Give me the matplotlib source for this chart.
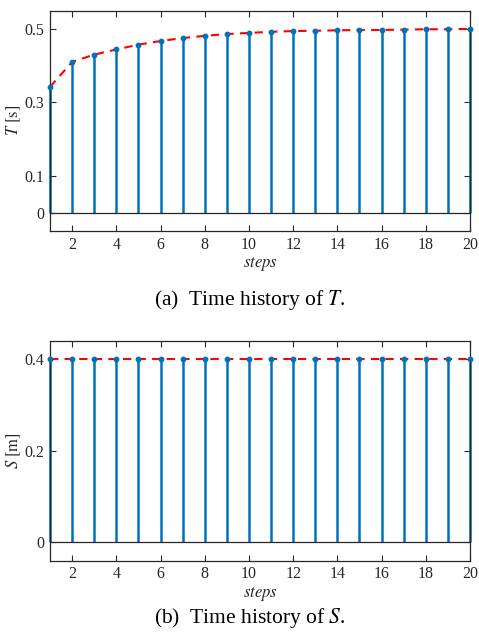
import matplotlib
matplotlib.use("Agg")
import matplotlib.pyplot as plt
import numpy as np

plt.rcParams['font.family'] = ['Liberation Serif', 'DejaVu Serif']
plt.rcParams['mathtext.fontset'] = 'stix'

steps = list(range(1, 21))
T_values = [0.342, 0.410, 0.430, 0.444, 0.457, 0.467, 0.475, 0.481, 0.486, 0.489,
            0.492, 0.494, 0.495, 0.496, 0.497, 0.497, 0.498, 0.499, 0.499, 0.500]
S_values = [0.4] * 20

x_ticks = [2, 4, 6, 8, 10, 12, 14, 16, 18, 20]
T_yticks = [0, 0.1, 0.3, 0.5]
T_yticklabels = ['0', '0.1', '0.3', '0.5']
S_yticks = [0, 0.2, 0.4]
S_yticklabels = ['0', '0.2', '0.4']

W, H = 479, 637
fig = plt.figure(figsize=(W / 100, H / 100), dpi=100)

blue = '#0072BD'
gray = '#262626'

def panel(rect, values, ylim, yticks, yticklabels, ylabel):
    ax = fig.add_axes(rect)
    ml, sl, bl = ax.stem(steps, values, linefmt='-', markerfmt='o', basefmt='-')
    plt.setp(sl, color=blue, linewidth=1.8, clip_on=False)
    plt.setp(ml, color=blue, markersize=3.2, clip_on=False, zorder=4)
    plt.setp(bl, color=gray, linewidth=0.9)
    bl.set_xdata([steps[0], steps[-1]])
    ax.plot(steps, values, '--', color='red', linewidth=1.5, dashes=(4, 3), zorder=3,
            clip_on=False)
    ax.set_xlim(1, 20)
    ax.set_ylim(*ylim)
    ax.set_xticks(x_ticks)
    ax.set_yticks(yticks)
    ax.set_yticklabels(yticklabels)
    ax.tick_params(direction='in', top=True, right=True, labelsize=11.5,
                   colors=gray, length=4, width=0.8, pad=4)
    for s in ax.spines.values():
        s.set_color(gray)
        s.set_linewidth(0.9)
    ax.set_xlabel(r'$steps$', fontsize=12, color=gray, labelpad=2)
    ax.set_ylabel(ylabel, fontsize=12, color=gray, labelpad=1)
    return ax

panel([50 / W, 1 - 231 / H, 420 / W, 220.5 / H], T_values, (-0.05, 0.55),
      T_yticks, T_yticklabels, r'$T\ \mathrm{[s]}$')
panel([50 / W, 1 - 560.7 / H, 420 / W, 220 / H], S_values, (-0.04, 0.44),
      S_yticks, S_yticklabels, r'$S\ \mathrm{[m]}$')

fig.text(250 / W, 1 - 300 / H, r'(a)  Time history of $T$.', ha='center', va='center', fontsize=15.5)
fig.text(250 / W, 1 - 618 / H, r'(b)  Time history of $S$.', ha='center', va='center', fontsize=15.5)

fig.savefig('out.png', dpi=100)
